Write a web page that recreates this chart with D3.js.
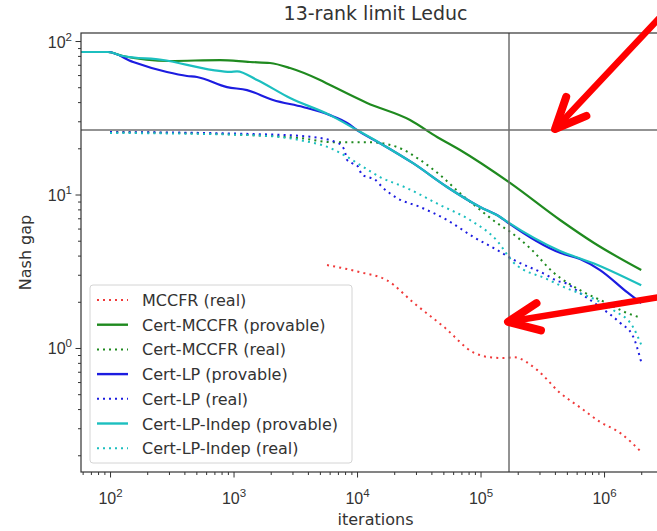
<!DOCTYPE html>
<html>
<head>
<meta charset="utf-8">
<script src="https://cdn.jsdelivr.net/npm/d3@7"></script>
<style>
  html, body { margin: 0; padding: 0; background: #fff; }
  svg { display: block; font-family: "DejaVu Sans", sans-serif; }
</style>
</head>
<body>
<svg id="chart" width="657" height="531"></svg>
<script>
// ---------- data (iterations, Nash gap) ----------
const title = "13-rank limit Leduc";
const xLabel = "iterations";
const yLabel = "Nash gap";

const seriesNames = [
  "MCCFR (real)",
  "Cert-MCCFR (provable)",
  "Cert-MCCFR (real)",
  "Cert-LP (provable)",
  "Cert-LP (real)",
  "Cert-LP-Indep (provable)",
  "Cert-LP-Indep (real)"
];

const mccfrReal = [[5715,3.47],[10570,3.12],[17500,2.76],[28940,1.96],[50640,1.37],[88620,0.93],[119400,0.87],[155000,0.86],[186700,0.87],[286800,0.72],[440400,0.51],[639300,0.41],[928100,0.33],[1348000,0.28],[2000000,0.21]];

const certMccfrProvable = [[58.2,84.8],[96.3,84.8],[127,79.9],[306,74.1],[778,75.2],[1360,73.0],[1975,71.9],[2867,66.7],[5017,55.7],[6045,51.7],[12050,39.5],[26860,30.6],[44440,23.7],[68240,19.5],[173300,11.9],[440400,6.82],[829900,4.83],[2000000,3.22]];

const certMccfrReal = [[100,25.5],[1360,24.4],[3455,23.3],[6393,21.9],[12740,21.9],[21080,20.4],[32370,16.8],[46990,13.4],[68240,10.2],[99080,7.95],[143900,6.31],[163900,5.90],[251700,4.47],[386400,3.12],[639300,2.38],[1057000,1.96],[1536000,1.69],[2000000,1.57]];

const certLpProvable = [[58.2,84.8],[96.3,84.8],[154,73.0],[289,62.8],[420,59.2],[506,58.3],[886,50.1],[1286,47.9],[2088,41.3],[3654,37.2],[6045,32.9],[8299,29.3],[10000,26.3],[15360,21.6],[28400,16.0],[53560,11.2],[99080,8.29],[143900,7.14],[163900,6.62],[440400,4.17],[639300,3.80],[928100,3.22],[1536000,2.31],[2000000,1.96]];

const certLpReal = [[100,25.5],[535,25.2],[1360,24.8],[3455,24.1],[6045,22.6],[7019,21.6],[7287,21.3],[7995,18.9],[8299,16.8],[9110,16.0],[10190,15.2],[10980,13.4],[12280,13.0],[13990,12.5],[15940,11.2],[21080,9.48],[32370,8.29],[53560,6.82],[86980,5.31],[136000,4.35],[183300,3.77],[345500,2.98],[416300,2.74],[492400,2.64],[639300,2.28],[928100,1.85],[1348000,1.46],[1717000,1.19],[2000000,0.81]];

const certLpIndepProvable = [[58.2,84.8],[96.3,84.8],[127,79.9],[269,75.2],[683,64.7],[937,63.0],[1067,63.4],[1550,55.7],[2867,42.5],[6045,32.9],[10000,26.3],[15360,21.6],[28400,16.0],[53560,11.2],[99080,8.29],[143900,7.14],[163900,6.66],[440400,4.29],[829900,3.55],[2000000,2.56]];

const certLpIndepReal = [[100,25.2],[1360,24.4],[3455,22.6],[6045,20.1],[8299,17.6],[10570,15.6],[15360,13.0],[25400,11.0],[46990,8.54],[82220,6.82],[136000,5.0],[183300,3.63],[345500,2.81],[440400,2.56],[1183000,1.77],[1717000,1.37],[2000000,1.05]];

const xMajorTicks = [100, 1000, 10000, 100000, 1000000];
const xMajorLabels = ["2", "3", "4", "5", "6"];
const yMajorTicks = [1, 10, 100];
const yMajorLabels = ["0", "1", "2"];

// annotation markers (reference lines and red arrows), in data units
const crossIter = 170000;
const crossGap = 26.3;
const arrowTips = [[401000, 26.7], [167000, 1.48]];
const arrowTails = [[2840000, 143], [2840000, 2.15]];

// ---------- layout ----------
const svg = d3.select("#chart");
const L = 81, R = 670, T = 33, B = 472;
const xs = d3.scaleLog().domain([58.2, 3.42e6]).range([L, R]);
const ys = d3.scaleLog().domain([0.1556, 112.8]).range([B, T]);

const colRed = "#f03a3a", colGreen = "#1f8a1f", colBlue = "#1c1ce0", colCyan = "#1cbfbf";
const styles = [
  {data: mccfrReal, color: colRed, dotted: true},
  {data: certMccfrProvable, color: colGreen, dotted: false},
  {data: certMccfrReal, color: colGreen, dotted: true},
  {data: certLpProvable, color: colBlue, dotted: false},
  {data: certLpReal, color: colBlue, dotted: true},
  {data: certLpIndepProvable, color: colCyan, dotted: false},
  {data: certLpIndepReal, color: colCyan, dotted: true}
];

svg.append("defs").append("clipPath").attr("id", "clip")
  .append("rect").attr("x", L).attr("y", T).attr("width", R - L).attr("height", B - T);

// lines
const line = d3.line().x(d => xs(d[0])).y(d => ys(d[1])).curve(d3.curveMonotoneX);
const gLines = svg.append("g").attr("clip-path", "url(#clip)");
styles.forEach(s => {
  gLines.append("path")
    .attr("d", line(s.data))
    .attr("fill", "none")
    .attr("stroke", s.color)
    .attr("stroke-width", s.dotted ? 2 : 2.2)
    .attr("stroke-dasharray", s.dotted ? "2,4.2" : null)
    .attr("stroke-linejoin", "round");
});

// crosshair reference lines
svg.append("line").attr("x1", xs(crossIter)).attr("x2", xs(crossIter)).attr("y1", T).attr("y2", B)
  .attr("stroke", "#6f6f6f").attr("stroke-width", 1.5);
svg.append("line").attr("x1", L).attr("x2", R).attr("y1", ys(crossGap)).attr("y2", ys(crossGap))
  .attr("stroke", "#6f6f6f").attr("stroke-width", 1.5);

// frame
svg.append("rect").attr("x", L).attr("y", T).attr("width", R - L).attr("height", B - T)
  .attr("fill", "none").attr("stroke", "#333").attr("stroke-width", 1.2);

// minor ticks
function minors(lo, hi) {
  const out = [];
  for (let e = -2; e <= 7; e++) for (let m = 2; m <= 9; m++) {
    const v = m * Math.pow(10, e);
    if (v >= lo && v <= hi) out.push(v);
  }
  return out;
}
const xMinor = minors(58.2, 3.42e6);
const yMinor = minors(0.1556, 112.8);

const axStyle = g => {
  g.select(".domain").remove();
  g.selectAll("line").attr("stroke", "#333").attr("stroke-width", 1);
};

svg.append("g").attr("transform", `translate(0,${B})`)
  .call(d3.axisBottom(xs).tickValues(xMinor).tickSize(3).tickFormat(""))
  .call(axStyle);
const xMaj = svg.append("g").attr("transform", `translate(0,${B})`)
  .call(d3.axisBottom(xs).tickValues(xMajorTicks).tickSize(5.5).tickFormat(""))
  .call(axStyle);
xMaj.selectAll(".tick").each(function(d, i) {
  const t = d3.select(this).append("text")
    .attr("y", 32).attr("text-anchor", "middle")
    .attr("fill", "#333").attr("font-size", 16);
  t.append("tspan").text("10");
  t.append("tspan").attr("dy", -7).attr("font-size", 11.5).text(xMajorLabels[i]);
});

svg.append("g").attr("transform", `translate(${L},0)`)
  .call(d3.axisLeft(ys).tickValues(yMinor).tickSize(3).tickFormat(""))
  .call(axStyle);
const yMaj = svg.append("g").attr("transform", `translate(${L},0)`)
  .call(d3.axisLeft(ys).tickValues(yMajorTicks).tickSize(5.5).tickFormat(""))
  .call(axStyle);
yMaj.selectAll(".tick").each(function(d, i) {
  const t = d3.select(this).append("text")
    .attr("x", -9).attr("y", 6).attr("text-anchor", "end")
    .attr("fill", "#333").attr("font-size", 16);
  t.append("tspan").text("10");
  t.append("tspan").attr("dy", -7).attr("font-size", 11.5).text(yMajorLabels[i]);
});

// title and axis labels
svg.append("text").attr("x", (L + R) / 2).attr("y", 20).attr("text-anchor", "middle")
  .attr("font-size", 19).attr("fill", "#333").text(title);
svg.append("text").attr("x", (L + R) / 2).attr("y", 525).attr("text-anchor", "middle")
  .attr("font-size", 16).attr("fill", "#333").text(xLabel);
svg.append("text").attr("transform", `translate(31,${(T + B) / 2}) rotate(-90)`)
  .attr("text-anchor", "middle").attr("font-size", 16).attr("fill", "#333").text(yLabel);

// legend
const lg = svg.append("g");
lg.append("rect").attr("x", 90).attr("y", 285).attr("width", 262).attr("height", 178)
  .attr("rx", 3).attr("fill", "#fff").attr("fill-opacity", 0.85)
  .attr("stroke", "#d4d4d4").attr("stroke-width", 1);
seriesNames.forEach((name, i) => {
  const y = 300 + i * 24.7;
  const s = styles[i];
  lg.append("line").attr("x1", 97).attr("x2", 128).attr("y1", y).attr("y2", y)
    .attr("stroke", s.color).attr("stroke-width", s.dotted ? 2 : 2.4)
    .attr("stroke-dasharray", s.dotted ? "2,4" : null);
  lg.append("text").attr("x", 142).attr("y", y + 6).attr("font-size", 16)
    .attr("fill", "#333").text(name);
});

// red arrows
const ag = svg.append("g").attr("stroke", "#ff0000").attr("fill", "none")
  .attr("stroke-linecap", "round").attr("stroke-linejoin", "round");
arrowTips.forEach((tip, i) => {
  const tx = xs(tip[0]), ty = ys(tip[1]);
  const sx = xs(arrowTails[i][0]), sy = ys(arrowTails[i][1]);
  const ang = Math.atan2(sy - ty, sx - tx);
  const len = 34, spread = 24 * Math.PI / 180;
  const w1 = [tx + len * Math.cos(ang - spread), ty + len * Math.sin(ang - spread)];
  const w2 = [tx + len * Math.cos(ang + spread), ty + len * Math.sin(ang + spread)];
  ag.append("path").attr("d", `M${sx},${sy}L${tx},${ty}`).attr("stroke-width", 6.5);
  ag.append("path").attr("d", `M${w1[0]},${w1[1]}L${tx},${ty}L${w2[0]},${w2[1]}`).attr("stroke-width", 8);
});
</script>
</body>
</html>
